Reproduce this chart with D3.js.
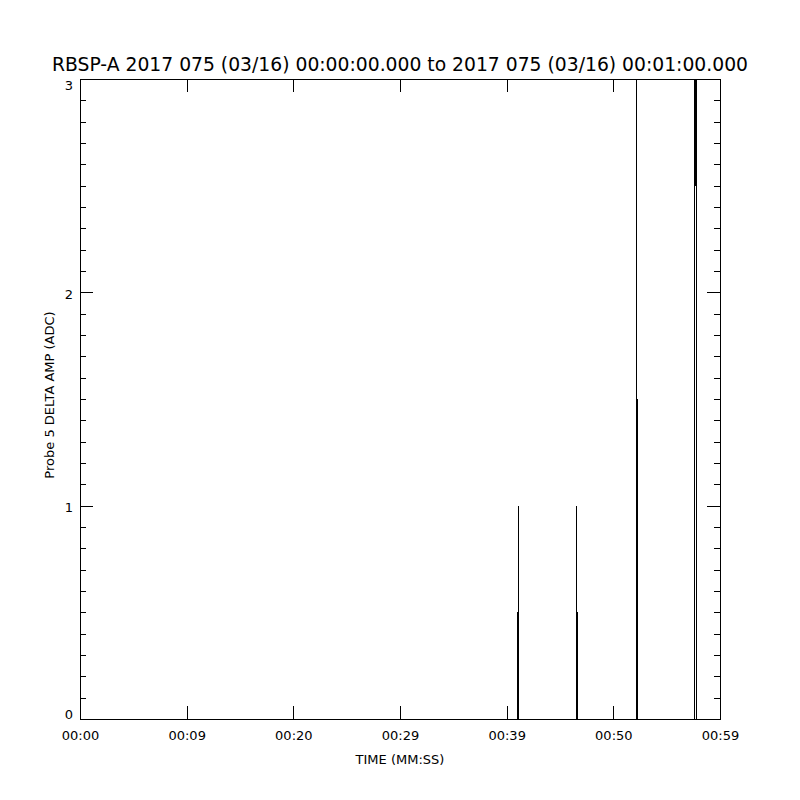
<!DOCTYPE html>
<html>
<head>
<meta charset="utf-8">
<script src="https://cdn.jsdelivr.net/npm/d3@7"></script>
<style>
  body { margin: 0; background: #fff; }
  svg { display: block; font-family: "DejaVu Sans", sans-serif; }
</style>
</head>
<body>
<svg width="800" height="800"></svg>
<script>
// data
var titleText = "RBSP-A 2017 075 (03/16) 00:00:00.000 to 2017 075 (03/16) 00:01:00.000";
var xLabel = "TIME (MM:SS)";
var yLabel = "Probe 5 DELTA AMP (ADC)";

// time in seconds from start, delta amp in ADC counts
var times  = [0,
  41.016, 41.016, 41.109, 41.109,
  46.547, 46.547, 46.547, 46.641,
  52.172, 52.172, 52.172, 52.266,
  57.609, 57.609, 57.703, 57.797, 57.797,
  60];
var values = [0,
  0, 0.5, 1, 0,
  0, 1, 0.5, 0,
  0, 3, 1.5, 0,
  0, 3, 2.5, 3, 0,
  0];

var xTicks = [0, 10, 20, 30, 40, 50, 60];
var xTickLabels = ["00:00", "00:09", "00:20", "00:29", "00:39", "00:50", "00:59"];
var yTicks = [0, 1, 2, 3];
// end of data

var svg = d3.select("svg"),
    plotL = 80, plotR = 720, plotT = 79, plotB = 719;

var x = d3.scaleLinear().domain([0, 60]).range([plotL, plotR]);
var y = d3.scaleLinear().domain([0, 3]).range([plotB, plotT]);

var minorY = d3.range(0, 30).map(function(i) { return i / 10; }).filter(function(v) { return Math.round(v * 10) % 10 !== 0; });

// clip for the trace
svg.append("clipPath").attr("id", "plotclip")
  .append("rect").attr("x", plotL).attr("y", plotT).attr("width", plotR - plotL).attr("height", plotB - plotT);

var pts = times.map(function(t, i) { return [t, values[i]]; });

// samples are held until the next one, like the instrument trace
var line = d3.line()
  .curve(d3.curveStepAfter)
  .x(function(d) { return Math.round(x(d[0]) - 0.5) + 0.5; })
  .y(function(d) { return y(d[1]); });

svg.append("path")
  .datum(pts)
  .attr("clip-path", "url(#plotclip)")
  .attr("fill", "none")
  .attr("stroke", "#000")
  .attr("stroke-width", 1)
  .attr("shape-rendering", "crispEdges")
  .attr("d", line);

function styleAxis(g) {
  g.select(".domain").remove();
  g.selectAll("line").attr("stroke", "#000").attr("shape-rendering", "crispEdges");
  g.selectAll("text").attr("fill", "#000").attr("font-size", 13).attr("font-family", "DejaVu Sans, sans-serif");
}

// bottom axis with labels
svg.append("g")
  .attr("transform", "translate(0," + plotB + ")")
  .call(d3.axisBottom(x).tickValues(xTicks)
    .tickFormat(function(d, i) { return xTickLabels[i]; })
    .tickSizeInner(-13).tickSizeOuter(0).tickPadding(12))
  .call(styleAxis);

// top axis, ticks only
svg.append("g")
  .attr("transform", "translate(0," + plotT + ")")
  .call(d3.axisTop(x).tickValues(xTicks).tickFormat("").tickSizeInner(-13).tickSizeOuter(0))
  .call(styleAxis);

// left axis major + minor
svg.append("g")
  .attr("transform", "translate(" + plotL + ",0)")
  .call(d3.axisLeft(y).tickValues(yTicks).tickFormat(d3.format("d"))
    .tickSizeInner(-13).tickSizeOuter(0).tickPadding(7))
  .call(styleAxis)
  .selectAll("text")
    .attr("dy", function(d) { return d === 0 ? "-0.05em" : d === 3 ? "0.8em" : "0.45em"; });

svg.append("g")
  .attr("transform", "translate(" + plotL + ",0)")
  .call(d3.axisLeft(y).tickValues(minorY).tickFormat("").tickSizeInner(-6).tickSizeOuter(0))
  .call(styleAxis);

// right axis major + minor
svg.append("g")
  .attr("transform", "translate(" + plotR + ",0)")
  .call(d3.axisRight(y).tickValues(yTicks).tickFormat("").tickSizeInner(-13).tickSizeOuter(0))
  .call(styleAxis);

svg.append("g")
  .attr("transform", "translate(" + plotR + ",0)")
  .call(d3.axisRight(y).tickValues(minorY).tickFormat("").tickSizeInner(-6).tickSizeOuter(0))
  .call(styleAxis);

// plot frame
svg.append("rect")
  .attr("x", plotL + 0.5).attr("y", plotT + 0.5)
  .attr("width", plotR - plotL).attr("height", plotB - plotT)
  .attr("fill", "none").attr("stroke", "#000")
  .attr("shape-rendering", "crispEdges");

// title and labels
svg.append("text")
  .attr("x", 400).attr("y", 71)
  .attr("text-anchor", "middle")
  .attr("font-size", 19)
  .attr("textLength", 696)
  .attr("lengthAdjust", "spacingAndGlyphs")
  .text(titleText);

svg.append("text")
  .attr("x", 400).attr("y", 764)
  .attr("text-anchor", "middle")
  .attr("font-size", 13)
  .text(xLabel);

svg.append("text")
  .attr("transform", "translate(54,395) rotate(-90)")
  .attr("text-anchor", "middle")
  .attr("font-size", 13)
  .text(yLabel);
</script>
</body>
</html>
